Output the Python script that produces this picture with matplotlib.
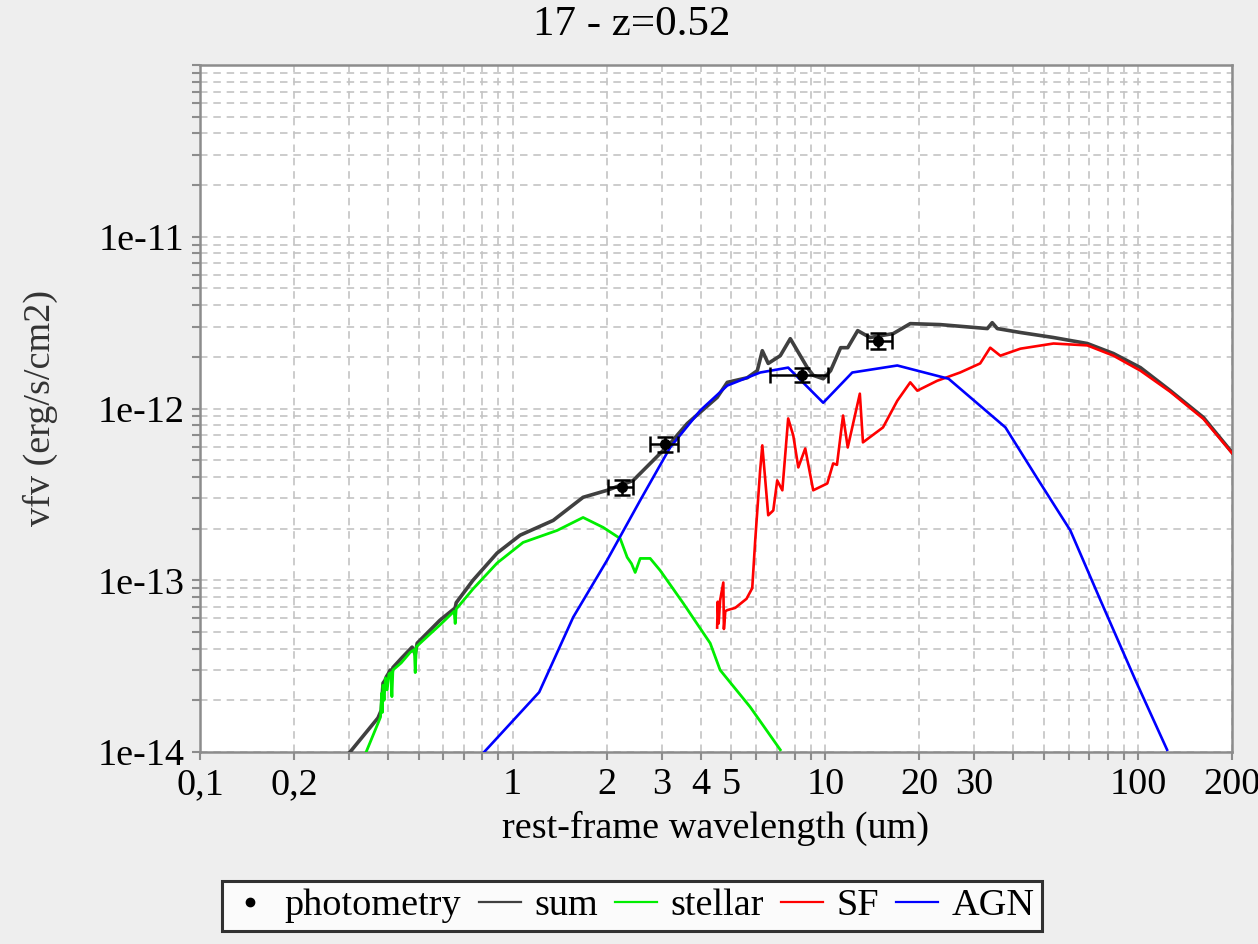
import numpy as np
import matplotlib
matplotlib.use("Agg")
import matplotlib.pyplot as plt
from matplotlib.lines import Line2D

plt.rcParams['font.family'] = ['Liberation Serif', 'DejaVu Serif']

# photometry (rest-frame um, erg/s/cm2)
phot_x = [2.24, 3.08, 8.44, 14.8]
phot_xlo = [2.02, 2.75, 6.67, 13.6]
phot_xhi = [2.43, 3.39, 10.2, 16.4]
phot_y = [3.47e-13, 6.18e-13, 1.56e-12, 2.48e-12]
phot_ylo = [3.12e-13, 5.55e-13, 1.42e-12, 2.23e-12]
phot_yhi = [3.81e-13, 6.78e-13, 1.73e-12, 2.77e-12]

# total model
sum_x = [0.302, 0.371, 0.380, 0.385, 0.390, 0.395, 0.400, 0.406, 0.410, 0.414,
         0.440, 0.477, 0.488, 0.495, 0.586, 0.655, 0.660, 0.747, 0.892, 1.057,
         1.348, 1.68, 2.006, 2.43, 3.19, 3.62, 4.51, 4.86, 5.63, 6.06,
         6.29, 6.57, 7.18, 7.73, 8.32, 8.76, 9.15, 9.85, 10.4, 11.2,
         11.8, 12.7, 13.9, 16.5, 18.7, 23.3, 33.0, 34.2, 35.5, 42.1,
         53.7, 68.9, 83.5, 101.9, 127, 162, 200]
sum_y = [1.0e-14, 1.58e-14, 1.75e-14, 2.52e-14, 2.6e-14, 2.75e-14, 2.85e-14, 3.0e-14, 2.75e-14, 3.1e-14,
         3.5e-14, 4.08e-14, 3.7e-14, 4.3e-14, 5.86e-14, 6.9e-14, 7.4e-14, 1.0e-13, 1.44e-13, 1.83e-13,
         2.23e-13, 3.04e-13, 3.34e-13, 3.81e-13, 6.26e-13, 8.18e-13, 1.16e-12, 1.42e-12, 1.51e-12, 1.66e-12,
         2.17e-12, 1.83e-12, 2.03e-12, 2.55e-12, 2.03e-12, 1.73e-12, 1.56e-12, 1.49e-12, 1.66e-12, 2.26e-12,
         2.26e-12, 2.84e-12, 2.59e-12, 2.73e-12, 3.12e-12, 3.08e-12, 2.92e-12, 3.16e-12, 2.92e-12, 2.77e-12,
         2.59e-12, 2.39e-12, 2.09e-12, 1.73e-12, 1.27e-12, 8.87e-13, 5.55e-13]

# stellar component
stellar_x = [0.340, 0.371, 0.378, 0.381, 0.383, 0.385, 0.388, 0.392, 0.397, 0.402,
             0.408, 0.411, 0.414, 0.440, 0.470, 0.485, 0.488, 0.492, 0.540, 0.586,
             0.650, 0.655, 0.660, 0.747, 0.892, 1.08, 1.388, 1.68, 1.949, 2.208,
             2.325, 2.40, 2.466, 2.559, 2.754, 2.965, 3.513, 4.285, 4.61, 5.75, 7.18]
stellar_y = [1.0e-14, 1.47e-14, 1.6e-14, 2.2e-14, 1.7e-14, 2.45e-14, 2.0e-14, 2.7e-14, 2.3e-14, 2.85e-14,
             2.9e-14, 2.1e-14, 3.0e-14, 3.3e-14, 3.8e-14, 3.95e-14, 2.9e-14, 4.1e-14, 4.8e-14, 5.5e-14,
             6.6e-14, 5.6e-14, 6.8e-14, 8.9e-14, 1.26e-13, 1.66e-13, 1.95e-13, 2.32e-13, 2.03e-13, 1.75e-13,
             1.36e-13, 1.25e-13, 1.11e-13, 1.34e-13, 1.34e-13, 1.14e-13, 7.35e-14, 4.3e-14, 3.0e-14, 1.83e-14, 1.03e-14]

# star-forming component
sf_x = [4.51, 4.53, 4.56, 4.61, 4.72, 4.74, 4.79, 4.86, 5.15, 5.6,
        5.84, 5.97, 6.19, 6.29, 6.43, 6.57, 6.82, 7.02, 7.29, 7.61,
        7.9, 8.2, 8.63, 9.15, 10.15, 10.6, 10.9, 11.4, 11.8, 12.9,
        13.2, 15.3, 17.0, 18.7, 19.7, 22.8, 27.0, 31.3, 33.7, 36.3,
        42.1, 53.7, 68.9, 83.5, 101.9, 127, 162, 200]
sf_y = [5.3e-14, 7.5e-14, 5.6e-14, 7.65e-14, 9.7e-14, 5.2e-14, 6.6e-14, 6.7e-14, 6.9e-14, 7.8e-14,
        9.0e-14, 1.71e-13, 4.36e-13, 6.1e-13, 3.81e-13, 2.39e-13, 2.55e-13, 3.81e-13, 3.34e-13, 8.75e-13,
        6.97e-13, 4.54e-13, 5.85e-13, 3.34e-13, 3.66e-13, 4.79e-13, 4.7e-13, 9.1e-13, 5.93e-13, 1.22e-12,
        6.35e-13, 7.76e-13, 1.11e-12, 1.42e-12, 1.27e-12, 1.45e-12, 1.62e-12, 1.83e-12, 2.26e-12, 2.03e-12,
        2.23e-12, 2.39e-12, 2.33e-12, 2.03e-12, 1.66e-12, 1.25e-12, 8.7e-13, 5.5e-13]

# AGN component
agn_x = [0.811, 1.216, 1.562, 2.006, 2.559, 3.19, 3.98, 4.86, 6.19, 7.61,
         9.85, 12.2, 17.0, 24.8, 37.7, 47.0, 60.8, 75.9, 98.2, 124]
agn_y = [1.0e-14, 2.23e-14, 6.09e-14, 1.31e-13, 2.92e-13, 5.93e-13, 9.73e-13, 1.36e-12, 1.62e-12, 1.73e-12,
         1.08e-12, 1.62e-12, 1.78e-12, 1.49e-12, 7.76e-13, 4.08e-13, 1.95e-13, 7.65e-14, 2.62e-14, 1.03e-14]

xtick_vals = [0.1, 0.2, 0.3, 0.4, 0.5, 0.6, 0.7, 0.8, 0.9,
              1, 2, 3, 4, 5, 6, 7, 8, 9,
              10, 20, 30, 40, 50, 60, 70, 80, 90, 100, 200]
xtick_text = {0.1: '0,1', 0.2: '0,2', 1: '1', 2: '2', 3: '3', 4: '4', 5: '5',
              10: '10', 20: '20', 30: '30', 100: '100', 200: '200'}
ytick_text = {1e-14: '1e-14', 1e-13: '1e-13', 1e-12: '1e-12', 1e-11: '1e-11'}

grey = '#8c8c8c'
fs = 27.5
fig = plt.figure(figsize=(12.58, 9.44), dpi=100, facecolor='#eeeeee')
ax = fig.add_axes([200/1258, 1-752/944, 1032/1258, 687/944])
ax.set_xscale('log')
ax.set_yscale('log')
ax.set_xlim(0.1, 200)
ax.set_ylim(1e-14, 1e-10)

ax.plot(sum_x, sum_y, color='#404040', lw=2.6, zorder=3)
ax.plot(stellar_x, stellar_y, color='#00ee00', lw=2.0, zorder=4)
ax.plot(sf_x, sf_y, color='#ff0000', lw=1.9, zorder=4)
ax.plot(agn_x, agn_y, color='#0000ff', lw=1.9, zorder=4)

px = np.array(phot_x)
py = np.array(phot_y)
xerr = [px - np.array(phot_xlo), np.array(phot_xhi) - px]
yerr = [py - np.array(phot_ylo), np.array(phot_yhi) - py]
ax.errorbar(px, py, xerr=xerr, yerr=yerr, fmt='o', color='black', ms=7,
            elinewidth=1.8, capsize=6, capthick=1.8, zorder=6)

# ticks and grid
yticks = []
for dec in [-14, -13, -12, -11]:
    for m in range(1, 10):
        yticks.append(m * 10.0**dec)
yticks.append(1e-10)
ax.set_yticks(yticks)
ax.set_yticklabels([ytick_text.get(v, '') for v in yticks])
ax.yaxis.set_minor_locator(matplotlib.ticker.NullLocator())
ax.set_xticks(xtick_vals)
ax.set_xticklabels([xtick_text.get(v, '') for v in xtick_vals])
ax.xaxis.set_minor_locator(matplotlib.ticker.NullLocator())
ax.tick_params(direction='out', length=6, width=1.5, color=grey,
               labelsize=fs, pad=5, labelcolor='black')
ax.grid(True, color='#c4c4c4', lw=1.2, ls=(0, (4.5, 3.5)))
ax.set_axisbelow(True)
for s in ax.spines.values():
    s.set_color(grey)
    s.set_linewidth(1.8)

ax.set_xlabel('rest-frame wavelength (um)', fontsize=fs)
ax.xaxis.set_label_coords(0.5, (752-828)/687)
ax.xaxis.label.set_va('center')
ax.set_ylabel('vfv (erg/s/cm2)', fontsize=fs, color='#333333')
ax.yaxis.set_label_coords((40-200)/1032, 0.5)
ax.yaxis.label.set_va('center')

fig.text(632/1258, 1-25/944, '17 - z=0.52', fontsize=31, ha='center', va='center')

handles = [Line2D([], [], marker='o', ls='none', color='black', ms=6),
           Line2D([], [], color='#404040', lw=1.6),
           Line2D([], [], color='#00ee00', lw=1.6),
           Line2D([], [], color='#ff0000', lw=1.6),
           Line2D([], [], color='#0000ff', lw=1.6)]
leg = fig.legend(handles, ['photometry', 'sum', 'stellar', 'SF', 'AGN'],
                 loc='center', bbox_to_anchor=(632/1258, 1-906/944), ncol=5,
                 fontsize=fs, frameon=True, fancybox=False, handlelength=1.1,
                 handletextpad=0.35, columnspacing=0.45, borderpad=0.2)
leg.get_frame().set_edgecolor('black')
leg.get_frame().set_linewidth(2.2)
leg.get_frame().set_facecolor('white')

fig.savefig('out.png', dpi=100, facecolor=fig.get_facecolor())
